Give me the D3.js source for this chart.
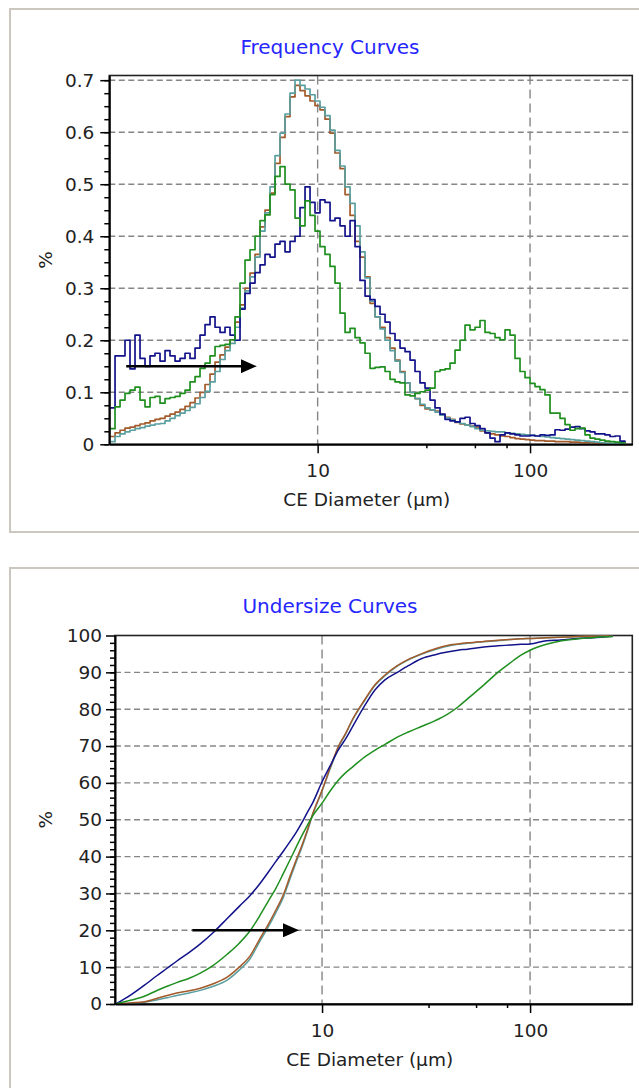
<!DOCTYPE html>
<html>
<head>
<meta charset="utf-8">
<script src="https://cdn.jsdelivr.net/npm/d3@7"></script>
<style>
  body { margin: 0; background: #fff; }
  svg text { font-family: "DejaVu Sans", Verdana, sans-serif; }
</style>
</head>
<body>
<svg id="chart" width="639" height="1088"></svg>
<script>
// CE diameter bins (µm) for the frequency curves
const sizes = [
  1.053, 1.112, 1.174, 1.239, 1.308, 1.381, 1.458, 1.539, 1.625, 1.715,
  1.811, 1.912, 2.018, 2.131, 2.250, 2.375, 2.507, 2.647, 2.794, 2.950,
  3.114, 3.288, 3.471, 3.664, 3.868, 4.084, 4.311, 4.551, 4.805, 5.072,
  5.355, 5.653, 5.968, 6.300, 6.651, 7.022, 7.413, 7.826, 8.262, 8.722,
  9.208, 9.720, 10.26, 10.83, 11.44, 12.07, 12.75, 13.46, 14.21, 15.00,
  15.83, 16.72, 17.65, 18.63, 19.67, 20.77, 21.92, 23.14, 24.43, 25.79,
  27.23, 28.74, 30.34, 32.03, 33.82, 35.70, 37.69, 39.79, 42.00, 44.34,
  46.81, 49.42, 52.17, 55.08, 58.14, 61.38, 64.80, 68.41, 72.22, 76.24,
  80.49, 84.97, 89.70, 94.70, 99.97, 105.5, 111.4, 117.6, 124.2, 131.1,
  138.4, 146.1, 154.2, 162.8, 171.9, 181.5, 191.6, 202.2, 213.5, 225.4,
  237.9, 251.2, 265.2, 279.9
];

const freqNavy = [
  0.07, 0.17, 0.17, 0.20, 0.145, 0.21, 0.165, 0.15, 0.17, 0.175,
  0.16, 0.18, 0.17, 0.16, 0.165, 0.175, 0.165, 0.185, 0.21, 0.23,
  0.245, 0.225, 0.215, 0.225, 0.21, 0.20, 0.26, 0.29, 0.31, 0.33,
  0.345, 0.365, 0.36, 0.385, 0.39, 0.37, 0.39, 0.40, 0.455, 0.495,
  0.465, 0.445, 0.47, 0.465, 0.43, 0.435, 0.42, 0.40, 0.43, 0.38,
  0.315, 0.285, 0.278, 0.265, 0.25, 0.235, 0.213, 0.20, 0.185, 0.178,
  0.162, 0.14, 0.118, 0.108, 0.085, 0.07, 0.058, 0.048, 0.045, 0.043,
  0.05, 0.052, 0.04, 0.036, 0.03, 0.022, 0.012, 0.005, 0.018, 0.022,
  0.02, 0.018, 0.016, 0.016, 0.017, 0.016, 0.018, 0.017, 0.018, 0.028,
  0.027, 0.029, 0.033, 0.034, 0.03, 0.026, 0.024, 0.02, 0.02, 0.018,
  0.015, 0.016, 0.006, 0.003
];

const freqGreen = [
  0.03, 0.072, 0.085, 0.098, 0.104, 0.11, 0.085, 0.072, 0.09, 0.092,
  0.079, 0.088, 0.09, 0.092, 0.098, 0.104, 0.12, 0.13, 0.146, 0.156,
  0.17, 0.188, 0.19, 0.192, 0.201, 0.245, 0.31, 0.354, 0.374, 0.40,
  0.43, 0.441, 0.48, 0.515, 0.534, 0.50, 0.489, 0.435, 0.42, 0.468,
  0.44, 0.41, 0.38, 0.365, 0.342, 0.31, 0.252, 0.215, 0.223, 0.205,
  0.195, 0.175, 0.146, 0.148, 0.149, 0.14, 0.125, 0.12, 0.118, 0.095,
  0.093, 0.098, 0.101, 0.104, 0.108, 0.14, 0.143, 0.145, 0.156, 0.181,
  0.2, 0.229, 0.22, 0.225, 0.238, 0.215, 0.213, 0.205, 0.201, 0.22,
  0.21, 0.165, 0.14, 0.128, 0.117, 0.111, 0.105, 0.095, 0.06, 0.06,
  0.05, 0.038, 0.027, 0.03, 0.031, 0.018, 0.012, 0.01, 0.008, 0.006,
  0.005, 0.004, 0.003, 0.002
];

const freqBrown = [
  0.015, 0.022, 0.027, 0.031, 0.033, 0.036, 0.039, 0.041, 0.045, 0.048,
  0.05, 0.054, 0.058, 0.062, 0.067, 0.073, 0.08, 0.089, 0.1, 0.115,
  0.135, 0.158, 0.172, 0.187, 0.201, 0.235, 0.268, 0.30, 0.329, 0.365,
  0.418, 0.45, 0.483, 0.54, 0.59, 0.63, 0.668, 0.69, 0.68, 0.67,
  0.66, 0.651, 0.643, 0.625, 0.598, 0.56, 0.53, 0.48, 0.44, 0.39,
  0.36, 0.322, 0.271, 0.245, 0.225, 0.205, 0.185, 0.162, 0.14, 0.118,
  0.1, 0.088, 0.075, 0.068, 0.066, 0.064, 0.057, 0.052, 0.048, 0.042,
  0.039, 0.037, 0.035, 0.033, 0.026, 0.022, 0.02, 0.018, 0.016, 0.015,
  0.013, 0.011, 0.01, 0.009, 0.008, 0.007, 0.007, 0.006, 0.006, 0.005,
  0.005, 0.005, 0.004, 0.004, 0.003, 0.003, 0.003, 0.002, 0.002, 0.002,
  0.001, 0.001, 0.001, 0
];

const freqTeal = [
  0.005, 0.015, 0.02, 0.024, 0.027, 0.03, 0.032, 0.035, 0.037, 0.039,
  0.04, 0.045, 0.05, 0.055, 0.06, 0.065, 0.071, 0.078, 0.09, 0.102,
  0.12, 0.14, 0.163, 0.18, 0.194, 0.225, 0.262, 0.295, 0.322, 0.36,
  0.41, 0.445, 0.495, 0.555, 0.598, 0.635, 0.675, 0.70, 0.69, 0.683,
  0.672, 0.66, 0.648, 0.632, 0.604, 0.565, 0.535, 0.495, 0.463, 0.42,
  0.37, 0.32, 0.275, 0.245, 0.222, 0.2, 0.18, 0.16, 0.138, 0.118,
  0.1, 0.088, 0.077, 0.07, 0.066, 0.062, 0.056, 0.051, 0.047, 0.043,
  0.04, 0.037, 0.034, 0.03, 0.027, 0.026, 0.025, 0.024, 0.024, 0.022,
  0.021, 0.02, 0.019, 0.018, 0.017, 0.016, 0.015, 0.014, 0.013, 0.012,
  0.011, 0.01, 0.009, 0.008, 0.007, 0.006, 0.005, 0.004, 0.003, 0.002,
  0.002, 0.001, 0.001, 0
];

// CE diameter points (µm) for the undersize curves
const cumSizes = [
  1.02, 1.2, 1.4, 1.6, 1.8, 2, 2.3, 2.6, 3, 3.5,
  4, 4.5, 5, 5.5, 6, 6.5, 7, 7.5, 8, 8.5,
  9, 10, 11, 12, 13, 14, 16, 18, 20, 23,
  26, 30, 35, 40, 45, 50, 60, 70, 80, 90,
  100, 120, 140, 170, 200, 250
];

const cumNavy = [
  0, 2.4, 5.1, 7.6, 9.7, 11.6, 14.0, 16.3, 19.4, 23.2,
  26.5, 29.4, 32.5, 35.7, 38.7, 41.4, 44.0, 46.5, 49.2, 52,
  54.5, 60.3, 64.9, 69, 72, 75.2, 80.9, 85.3, 87.9, 90,
  91.8, 93.7, 94.8, 95.5, 96, 96.3, 96.9, 97.2, 97.4, 97.6,
  97.7, 98.6, 98.8, 99.2, 99.4, 99.8
];

const cumGreen = [
  0, 1.0, 2.1, 3.6, 4.8, 5.8, 7.0, 8.4, 10.5, 13.5,
  16.5, 19.8, 23.8, 27.8, 31.4, 35.3, 39, 42.5, 45.7, 48.5,
  51, 54.5, 58, 60.8, 62.8, 64.3, 67, 68.9, 70.4, 72.4,
  73.8, 75.3, 76.9, 78.6, 80.6, 82.8, 86.6, 90, 92.5, 94.6,
  96, 97.6, 98.5, 99.1, 99.4, 99.7
];

const cumBrown = [
  0, 0.3, 0.6, 1.5, 2.3, 3.0, 3.6, 4.3, 5.5, 7.3,
  10, 13, 17.5, 21.5, 25.5, 29.5, 34.5, 39, 43, 47.2,
  51.5, 58, 64.5, 70, 73.5, 77.2, 82.5, 86.7, 89.2, 91.8,
  93.5, 95, 96.4, 97.3, 97.7, 98, 98.4, 98.7, 98.9, 99.1,
  99.2, 99.4, 99.5, 99.7, 99.8, 99.9
];

const cumTeal = [
  0, 0.2, 0.5, 1.1, 1.7, 2.3, 3.0, 3.7, 4.8, 6.5,
  9.2, 12.2, 16.8, 20.8, 24.8, 28.8, 33.8, 38.4, 42.5, 46.8,
  51.2, 57.8, 64.2, 69.7, 73.3, 77, 82.3, 86.5, 89, 91.7,
  93.4, 94.9, 96.2, 97.1, 97.6, 97.9, 98.3, 98.6, 98.9, 99.1,
  99.2, 99.4, 99.6, 99.7, 99.8, 99.9
];

const freqTicks = [0, 0.1, 0.2, 0.3, 0.4, 0.5, 0.6, 0.7];
const cumTicks = [0, 10, 20, 30, 40, 50, 60, 70, 80, 90, 100];
const xTicks = [10, 100];
const xMinorTicks = [32.5, 55, 77.5];

const colors = { navy: '#12128a', green: '#1f8f1f', brown: '#a35a2a', teal: '#5a9fa0' };
const FONT = 18.5;

const svg = d3.select('#chart');

// arrow head used by both panels
svg.append('defs').append('marker')
  .attr('id', 'arrowhead')
  .attr('markerUnits', 'userSpaceOnUse')
  .attr('markerWidth', 16).attr('markerHeight', 14)
  .attr('refX', 6).attr('refY', 7)
  .attr('orient', 'auto')
  .append('path')
  .attr('d', 'M0,0 L16,7 L0,14 Z')
  .attr('fill', '#000');

function styleAxis(sel) {
  sel.attr('font-size', FONT).attr('font-family', null);
  sel.selectAll('.tick line').attr('stroke', '#000').attr('stroke-width', 1.5);
  sel.selectAll('.tick text').attr('fill', '#222');
  sel.select('.domain').attr('stroke', '#000').attr('stroke-width', 2);
}

function drawPanel(p) {
  const g = svg.append('g');

  // light grey panel border
  g.append('rect')
    .attr('x', 10).attr('y', p.boxTop)
    .attr('width', 640).attr('height', p.boxHeight)
    .attr('fill', '#fff').attr('stroke', '#cbc7bf').attr('stroke-width', 2);

  g.append('text')
    .attr('x', 330).attr('y', p.titleY)
    .attr('text-anchor', 'middle')
    .attr('fill', '#2626ff')
    .attr('font-size', 20)
    .text(p.title);

  const x = d3.scaleLog().domain(p.xDomain).range([p.left, p.right]);
  const y = d3.scaleLinear().domain(p.yDomain).range([p.bottom, p.top]);

  // dashed grid
  g.append('g').selectAll('line')
    .data(p.yTicks.filter(v => v > 0 && y(v) > p.top + 1))
    .join('line')
    .attr('x1', p.left).attr('x2', p.right)
    .attr('y1', d => y(d)).attr('y2', d => y(d))
    .attr('stroke', '#868686').attr('stroke-width', 1.4)
    .attr('stroke-dasharray', '6,3.5');

  g.append('g').selectAll('line')
    .data(xTicks)
    .join('line')
    .attr('x1', d => x(d)).attr('x2', d => x(d))
    .attr('y1', p.top).attr('y2', p.bottom)
    .attr('stroke', '#868686').attr('stroke-width', 1.4)
    .attr('stroke-dasharray', '9,5');

  g.append('rect')
    .attr('x', p.left).attr('y', p.top)
    .attr('width', p.right - p.left).attr('height', p.bottom - p.top)
    .attr('fill', 'none').attr('stroke', '#222').attr('stroke-width', 1.6);

  const clipId = 'clip-' + p.id;
  g.append('clipPath').attr('id', clipId)
    .append('rect')
    .attr('x', p.left).attr('y', p.top - 2)
    .attr('width', p.right - p.left).attr('height', p.bottom - p.top + 2);

  const line = d3.line()
    .x(d => x(d[0]))
    .y(d => y(d[1]))
    .curve(p.curve);

  const curves = g.append('g').attr('clip-path', `url(#${clipId})`);
  p.series.forEach(s => {
    curves.append('path')
      .datum(d3.zip(p.sizes, s.values))
      .attr('d', line)
      .attr('fill', 'none')
      .attr('stroke', s.color)
      .attr('stroke-width', p.lineWidth)
      .attr('stroke-linejoin', 'round');
  });

  // axes: minor ticks first, then major ticks with labels
  const yMinor = g.append('g').attr('transform', `translate(${p.left},0)`)
    .call(d3.axisLeft(y).tickValues(p.yMinor).tickSize(5).tickFormat(''));
  yMinor.select('.domain').remove();
  styleAxis(yMinor);

  const yAxis = g.append('g').attr('transform', `translate(${p.left},0)`)
    .call(d3.axisLeft(y).tickValues(p.yTicks).tickSize(9).tickSizeOuter(0)
      .tickPadding(p.yPad).tickFormat(d3.format('~g')));
  styleAxis(yAxis);

  const xMinor = g.append('g').attr('transform', `translate(0,${p.bottom})`)
    .call(d3.axisBottom(x).tickValues(xMinorTicks).tickSize(4).tickFormat(''));
  xMinor.select('.domain').remove();
  styleAxis(xMinor);

  const xAxis = g.append('g').attr('transform', `translate(0,${p.bottom})`)
    .call(d3.axisBottom(x).tickValues(xTicks).tickSize(9).tickSizeOuter(0)
      .tickPadding(11).tickFormat(d3.format('~g')));
  styleAxis(xAxis);

  g.append('text')
    .attr('x', (p.left + p.right) / 2 - 4)
    .attr('y', p.bottom + 62)
    .attr('text-anchor', 'middle')
    .attr('fill', '#222')
    .attr('font-size', FONT)
    .text('CE Diameter (µm)');

  g.append('text')
    .attr('transform', `translate(45,${(p.top + p.bottom) / 2}) rotate(-90)`)
    .attr('text-anchor', 'middle')
    .attr('dominant-baseline', 'central')
    .attr('fill', '#222')
    .attr('font-size', FONT)
    .text('%');

  // annotation arrow
  g.append('line')
    .attr('x1', x(p.arrow[0])).attr('x2', x(p.arrow[1]) - 10)
    .attr('y1', y(p.arrow[2])).attr('y2', y(p.arrow[2]))
    .attr('stroke', '#000').attr('stroke-width', 2.5)
    .attr('marker-end', 'url(#arrowhead)');
}

drawPanel({
  id: 'freq',
  boxTop: 9, boxHeight: 523,
  title: 'Frequency Curves', titleY: 53.5,
  left: 109.3, right: 632.3, top: 75.5, bottom: 444.3,
  xDomain: [1.045, 303], yDomain: [0, 0.709],
  yTicks: freqTicks, yMinor: d3.range(0, 0.7001, 0.025), yPad: 6,
  sizes: sizes,
  curve: d3.curveStepAfter,
  lineWidth: 1.7,
  series: [
    { values: freqBrown, color: colors.brown },
    { values: freqTeal, color: colors.teal },
    { values: freqNavy, color: colors.navy },
    { values: freqGreen, color: colors.green }
  ],
  arrow: [1.255, 5.17, 0.15]
});

drawPanel({
  id: 'cum',
  boxTop: 568, boxHeight: 540,
  title: 'Undersize Curves', titleY: 613,
  left: 115, right: 632.3, top: 635.5, bottom: 1004,
  xDomain: [1.011, 310], yDomain: [0, 100],
  yTicks: cumTicks, yMinor: d3.range(0, 100, 2), yPad: 4,
  sizes: cumSizes,
  curve: d3.curveMonotoneX,
  lineWidth: 1.5,
  series: [
    { values: cumTeal, color: colors.teal },
    { values: cumBrown, color: colors.brown },
    { values: cumNavy, color: colors.navy },
    { values: cumGreen, color: colors.green }
  ],
  arrow: [2.38, 7.75, 20]
});
</script>
</body>
</html>
